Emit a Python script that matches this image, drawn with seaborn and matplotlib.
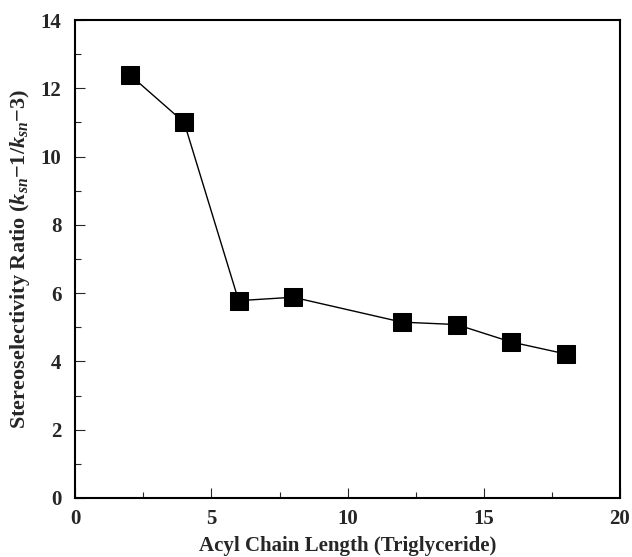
import matplotlib
matplotlib.use("Agg")
import matplotlib.pyplot as plt
import seaborn as sns
import pandas as pd
from matplotlib.ticker import MultipleLocator

chain_length = [2, 4, 6, 8, 12, 14, 16, 18]
ratio = [12.4, 11.0, 5.78, 5.88, 5.15, 5.08, 4.57, 4.22]

df = pd.DataFrame({"chain": chain_length, "ratio": ratio})

sns.set_theme(style="ticks")
plt.rcParams["font.family"] = ["Liberation Serif", "DejaVu Serif"]
plt.rcParams["mathtext.fontset"] = "custom"
plt.rcParams["mathtext.rm"] = "Liberation Serif:bold"
plt.rcParams["mathtext.it"] = "Liberation Serif:bold:italic"
plt.rcParams["mathtext.bf"] = "Liberation Serif:bold"

fig = plt.figure(figsize=(6.32, 5.57), dpi=100)
ax = fig.add_axes([0.119, 0.106, 0.862, 0.858])

sns.lineplot(data=df, x="chain", y="ratio", ax=ax, color="black", linewidth=1.0,
             marker="s", markersize=13, markerfacecolor="black",
             markeredgecolor="black")

ax.set_xlim(0, 20)
ax.set_ylim(0, 14)
ax.xaxis.set_major_locator(MultipleLocator(5))
ax.xaxis.set_minor_locator(MultipleLocator(2.5))
ax.yaxis.set_major_locator(MultipleLocator(2))
ax.yaxis.set_minor_locator(MultipleLocator(1))
ax.tick_params(which="both", direction="in", top=False, right=False)
ax.tick_params(which="major", length=7, width=0.8, labelsize=15, pad=8)
ax.tick_params(which="minor", length=4, width=0.8)
ax.tick_params(axis="y", which="major", pad=10)
for lbl in ax.get_xticklabels() + ax.get_yticklabels():
    lbl.set_fontweight("bold")
for s in ax.spines.values():
    s.set_linewidth(1.5)
    s.set_color("black")

ax.set_xlabel("Acyl Chain Length (Triglyceride)", fontsize=15, fontweight="bold", labelpad=5)
ax.set_ylabel(r"Stereoselectivity Ratio ($k_{sn}$$-$1/$k_{sn}$$-$3)", fontsize=16,
              fontweight="bold", labelpad=6)

fig.savefig("out.png", dpi=100)
